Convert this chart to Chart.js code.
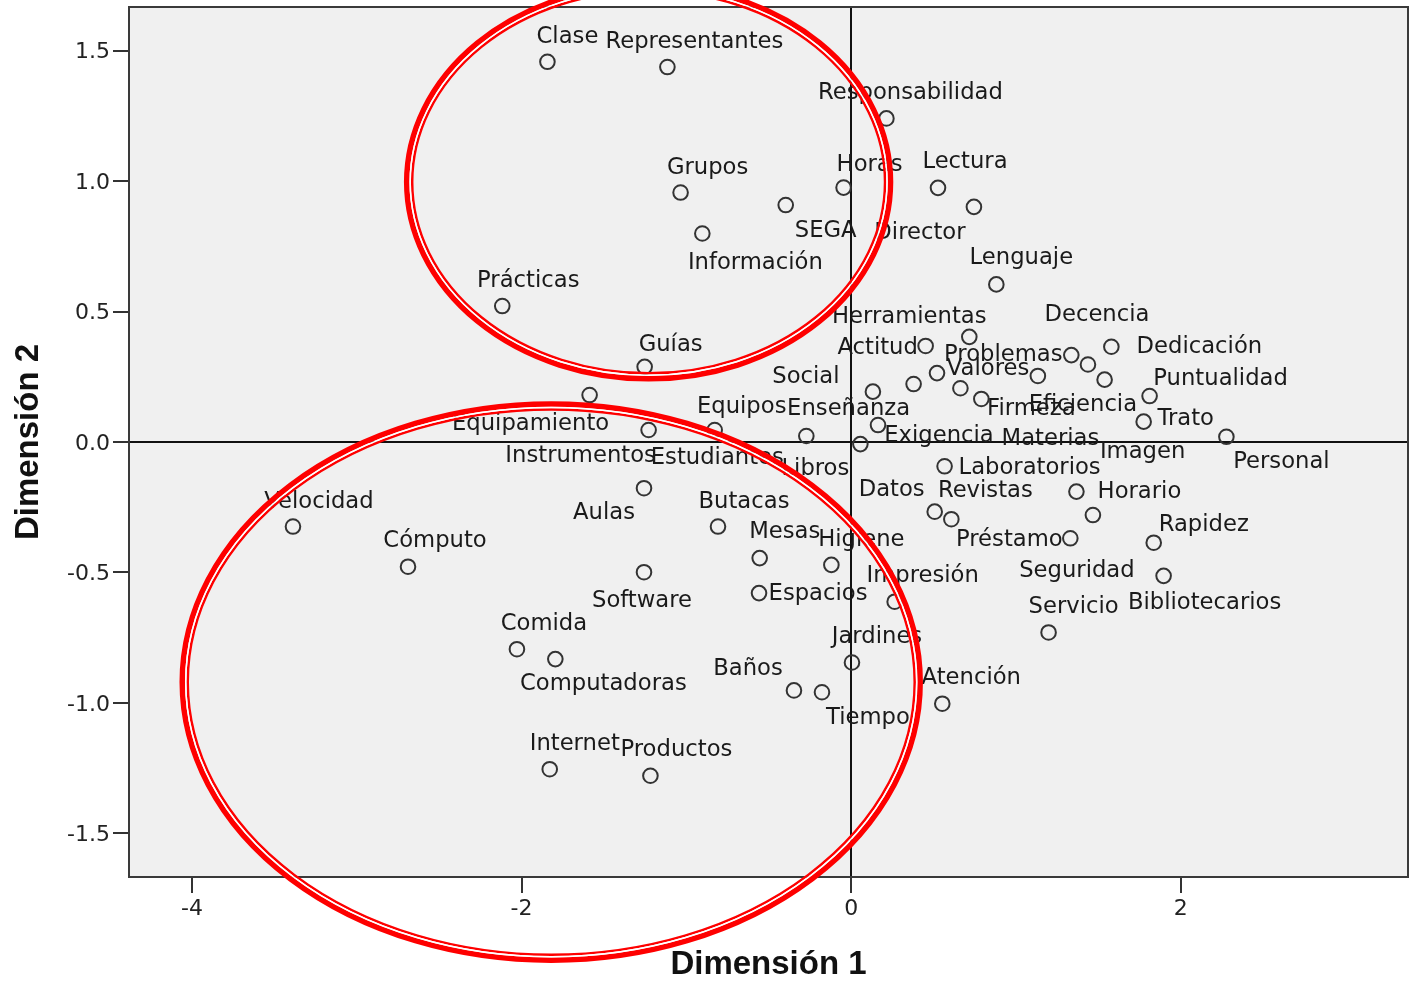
<!DOCTYPE html>
<html>
<head>
<meta charset="utf-8">
<script src="https://cdn.jsdelivr.net/npm/chart.js@4.4.1/dist/chart.umd.min.js"></script>
<style>
  html, body { margin: 0; background: #fff; }
  #marco { width: 1410px; height: 981px; }
</style>
</head>
<body>
<div id="marco"><canvas id="grafico"></canvas></div>
<script>
// Mapa de categorías (dimensión 1 vs dimensión 2).

const nombres = [
  'Clase', 'Representantes', 'Responsabilidad', 'Grupos', 'Horas', 'Lectura', 'SEGA', 'Director',
  'Información', 'Lenguaje', 'Prácticas', 'Guías', 'Equipamiento', 'Instrumentos', 'Equipos',
  'Estudiantes', 'Libros', 'Social', 'Enseñanza', 'Exigencia', 'Herramientas', 'Actitud', 'Valores',
  'Materias', 'Firmeza', 'Eficiencia', 'Problemas', 'Decencia', 'Dedicación', 'Imagen', 'Puntualidad',
  'Trato', 'Personal', 'Laboratorios', 'Horario', 'Datos', 'Revistas', 'Préstamo', 'Rapidez',
  'Seguridad', 'Bibliotecarios', 'Servicio', 'Velocidad', 'Cómputo', 'Aulas', 'Butacas', 'Mesas',
  'Higiene', 'Software', 'Espacios', 'Impresión', 'Comida', 'Computadoras', 'Baños', 'Tiempo',
  'Jardines', 'Atención', 'Internet', 'Productos',
];

const dimension1 = [
  -1.843, -1.115, 0.214, -1.035, -0.046, 0.527, -0.397, 0.745,
  -0.903, 0.881, -2.117, -1.253, -1.587, -1.229, -0.828,
  -0.272, 0.056, 0.132, 0.379, 0.163, 0.717, 0.452, 0.521,
  0.663, 0.790, 1.133, 1.336, 1.437, 1.579, 1.538, 1.811,
  1.775, 2.277, 0.567, 1.367, 0.507, 0.608, 1.330, 1.836,
  1.467, 1.896, 1.198, -3.387, -2.689, -1.257, -0.808, -0.555,
  -0.120, -1.257, -0.559, 0.264, -2.028, -1.795, -0.347, -0.177,
  0.005, 0.553, -1.829, -1.218,
];

const dimension2 = [
  1.457, 1.437, 1.240, 0.956, 0.975, 0.974, 0.908, 0.901,
  0.799, 0.604, 0.521, 0.288, 0.180, 0.046, 0.046,
  0.023, -0.008, 0.193, 0.222, 0.065, 0.403, 0.368, 0.264,
  0.206, 0.165, 0.253, 0.333, 0.297, 0.365, 0.239, 0.176,
  0.078, 0.020, -0.093, -0.190, -0.267, -0.296, -0.369, -0.386,
  -0.280, -0.513, -0.730, -0.324, -0.478, -0.177, -0.324, -0.445,
  -0.471, -0.499, -0.579, -0.612, -0.794, -0.832, -0.952, -0.959,
  -0.845, -1.003, -1.254, -1.279,
];

const ticksX = [-4, -2, 0, 2];
const ticksY = [-1.5, -1.0, -0.5, 0.0, 0.5, 1.0, 1.5];

// Desplazamiento de cada etiqueta respecto a su punto (px), como en SPSS.
const desplazamientos = [
  [20, -27], [27, -27], [24, -27], [27, -27], [26, -25], [27, -28], [40, 24], [-54, 24],
  [53, 27], [25, -28], [26, -27], [26, -24], [-59, 27], [-68, 24], [27, -25],
  [-89, 20], [-45, 23], [-67, -17], [-65, 23], [61, 9], [-60, -22], [-48, 0], [51, -6],
  [90, 49], [50, 8], [45, 27], [-68, -2], [9, -51], [88, -2], [38, 70], [71, -19],
  [42, -5], [55, 23], [85, 0], [63, -2], [-43, -24], [34, -30], [-61, 0], [50, -20],
  [-16, 54], [41, 25], [25, -27], [26, -27], [27, -28], [-40, 23], [26, -27], [25, -28],
  [30, -27], [-2, 27], [59, -1], [28, -28], [27, -27], [48, 23], [-46, -23], [46, 24],
  [25, -28], [29, -28], [25, -27], [26, -28],
];

// Elipses rojas marcadas a mano sobre el gráfico (en unidades de los ejes).
const elipses = [
  { cx: -1.229, cy: 0.996, rx: 1.468, ry: 0.754 },
  { cx: -1.820, cy: -0.920, rx: 2.239, ry: 1.066 },
];

const fondoGris = {
  id: 'fondoGris',
  beforeDraw(chart) {
    const { ctx, chartArea: a } = chart;
    ctx.save();
    ctx.fillStyle = '#f0f0f0';
    ctx.fillRect(a.left, a.top, a.right - a.left, a.bottom - a.top);
    ctx.restore();
  },
};

const etiquetas = {
  id: 'etiquetas',
  afterDatasetsDraw(chart) {
    const ctx = chart.ctx;
    const puntos = chart.getDatasetMeta(0).data;
    ctx.save();
    ctx.font = '22.7px "DejaVu Sans"';
    ctx.fillStyle = '#1a1a1a';
    ctx.textAlign = 'center';
    ctx.textBaseline = 'alphabetic';
    puntos.forEach((p, i) => {
      const [dx, dy] = desplazamientos[i];
      ctx.fillText(nombres[i], p.x + dx, p.y + dy + 8);
    });
    ctx.restore();
  },
};

const marcas = {
  id: 'marcas',
  afterDraw(chart) {
    const { ctx, chartArea: a, scales: { x, y } } = chart;
    ctx.save();
    ctx.strokeStyle = '#3a3a3a';
    ctx.lineWidth = 2;
    ctx.strokeRect(a.left, a.top, a.right - a.left, a.bottom - a.top);

    elipses.forEach((e) => {
      const cx = x.getPixelForValue(e.cx);
      const cy = y.getPixelForValue(e.cy);
      const rx = Math.abs(x.getPixelForValue(e.cx + e.rx) - cx);
      const ry = Math.abs(y.getPixelForValue(e.cy + e.ry) - cy);
      const trazo = (d, ancho, color) => {
        ctx.beginPath();
        ctx.ellipse(cx, cy, rx - d, ry - d, 0, 0, Math.PI * 2);
        ctx.lineWidth = ancho;
        ctx.strokeStyle = color;
        ctx.stroke();
      };
      trazo(0, 5.5, '#fe0000');
      trazo(5.5, 2.5, '#fe0000');
      trazo(3.5, 1.5, '#ffffff');
    });
    ctx.restore();
  },
};

const sinRelleno = (s) => {
  s.paddingTop = 0;
  s.paddingBottom = 0;
  s.paddingLeft = 0;
  s.paddingRight = 0;
};

new Chart(document.getElementById('grafico'), {
  type: 'scatter',
  data: {
    datasets: [{
      data: nombres.map((n, i) => ({ x: dimension1[i], y: dimension2[i] })),
      pointRadius: 7.3,
      pointHoverRadius: 7.3,
      borderWidth: 2,
      borderColor: '#333',
      backgroundColor: 'rgba(0,0,0,0)',
    }],
  },
  options: {
    responsive: true,
    maintainAspectRatio: false,
    animation: false,
    layout: { autoPadding: false, padding: { top: 7, right: 2, left: 0, bottom: 0 } },
    plugins: { legend: { display: false }, tooltip: { enabled: false } },
    scales: {
      x: {
        type: 'linear',
        min: -4.382,
        max: 3.379,
        afterBuildTicks: (s) => { s.ticks = ticksX.map((v) => ({ value: v })); },
        afterFit: (s) => { s.height = 104; sinRelleno(s); },
        border: { display: false },
        grid: {
          color: (c) => (c.tick && c.tick.value === 0 ? '#111' : 'rgba(0,0,0,0)'),
          lineWidth: 2,
          tickColor: '#333',
          tickWidth: 2,
          tickLength: 16,
        },
        ticks: {
          color: '#222',
          font: { family: 'DejaVu Sans', size: 22, lineHeight: 1.2 },
          padding: 3,
          maxRotation: 0,
          autoSkip: false,
          callback: (v) => String(v),
        },
        title: {
          display: true,
          text: 'Dimensión 1',
          color: '#111',
          font: { family: 'Liberation Sans', size: 33, weight: 'bold', lineHeight: 1 },
          padding: { top: 0, bottom: 0 },
        },
      },
      y: {
        type: 'linear',
        min: -1.667,
        max: 1.667,
        afterBuildTicks: (s) => { s.ticks = ticksY.map((v) => ({ value: v })); },
        afterFit: (s) => { s.width = 129; sinRelleno(s); },
        border: { display: false },
        grid: {
          color: (c) => (c.tick && c.tick.value === 0 ? '#111' : 'rgba(0,0,0,0)'),
          lineWidth: 2,
          tickColor: '#333',
          tickWidth: 2,
          tickLength: 16,
        },
        ticks: {
          color: '#222',
          font: { family: 'DejaVu Sans', size: 22 },
          padding: 3,
          labelOffset: 2,
          autoSkip: false,
          callback: (v) => v.toFixed(1),
        },
        title: {
          display: true,
          text: 'Dimensión 2',
          color: '#111',
          font: { family: 'Liberation Sans', size: 33, weight: 'bold', lineHeight: 1 },
          padding: { top: 12, bottom: 0 },
        },
      },
    },
  },
  plugins: [fondoGris, etiquetas, marcas],
});
</script>
</body>
</html>
